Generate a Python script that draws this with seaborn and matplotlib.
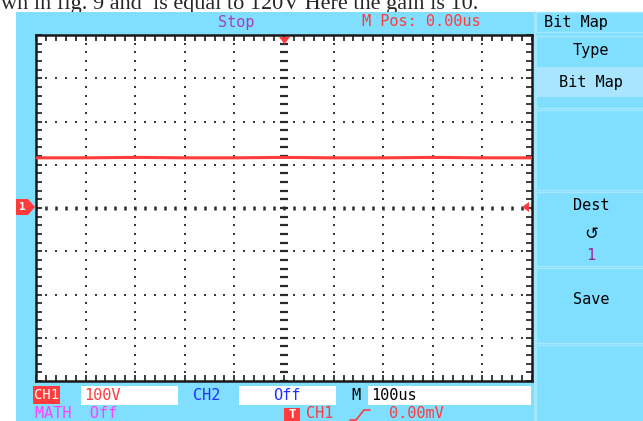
import numpy as np
import pandas as pd
import matplotlib
matplotlib.use("Agg")
import matplotlib.pyplot as plt
import seaborn as sns
from matplotlib.patches import Rectangle, Polygon
from matplotlib.lines import Line2D

trace_time_us = [-500, -400, -300, -200, -100, 0, 100, 200, 300, 400, 500]
trace_volts = [116, 116, 117, 116, 116, 117, 116, 116, 117, 116, 116]
volts_per_div = 100
us_per_div = 100
n_xdiv = 10
n_ydiv = 8

ch1_label = "100V"
ch2_label = "Off"
timebase_label = "100us"
trig_label = "0.00mV"
mpos_label = "M Pos: 0.00us"
run_state = "Stop"
menu_title = "Bit Map"
doc_line = "wn in fig. 9 and  is equal to 120V Here the gain is 10."

W, H = 643, 421
CYAN = "#80DEFF"
PANEL_EDGE = "#A6E9FF"
HILITE = "#A9E5FF"
RED = "#FF3B3B"
MONO = "DejaVu Sans Mono"

sns.set_style("white")
plt.rcParams["font.family"] = [MONO, "DejaVu Sans"]

fig = plt.figure(figsize=(W / 100, H / 100), dpi=100)
fig.patch.set_facecolor("white")


def fx(x):
    return x / W


def fy(y):
    return 1 - y / H


def box(x0, y0, x1, y1, fc, ec="none", z=-1, lw=1):
    fig.patches.append(Rectangle((fx(x0), fy(y1)), fx(x1) - fx(x0), fy(y0) - fy(y1),
                                 transform=fig.transFigure, fc=fc, ec=ec, lw=lw, zorder=z))


def txt(x, y, s, color="black", size=11, ha="left", **kw):
    fig.text(fx(x), fy(y), s, color=color, fontsize=size, ha=ha, va="center", **kw)


# document text partly hidden behind the screen capture
fig.text(fx(1), fy(9), doc_line, fontsize=16, family="Liberation Serif",
         va="baseline", ha="left", zorder=-3)

# screen background
box(16, 12, W + 2, H + 2, CYAN, z=-2)

# right menu panels
fig.lines.append(Line2D([fx(535), fx(535)], [fy(12), fy(H)], color=PANEL_EDGE, lw=1.2,
                        transform=fig.transFigure, zorder=-1))
box(536, 12, W + 2, 32, CYAN, PANEL_EDGE)
box(536, 36, W + 2, 108, CYAN, PANEL_EDGE)
box(537, 67, W + 2, 97, HILITE)
box(536, 110, W + 2, 190, CYAN, PANEL_EDGE)
box(536, 192, W + 2, 266, CYAN, PANEL_EDGE)
box(536, 268, W + 2, 343, CYAN, PANEL_EDGE)
box(536, 345, W + 2, H + 2, CYAN, PANEL_EDGE)

txt(544, 22, menu_title)
txt(591, 50, "Type", ha="center")
txt(591, 82, menu_title, ha="center")
txt(591, 205, "Dest", ha="center")
txt(591, 234, "\u21ba", ha="center", size=12, family="DejaVu Sans")
txt(591, 255, "1", color="#A0209F", ha="center")
txt(591, 300, "Save", ha="center")

# top status line
txt(236, 22, run_state, color="#A040C0", ha="center")
txt(362, 22, mpos_label, color=RED)

# --- waveform area ---
ax = fig.add_axes([fx(36), fy(381), fx(532) - fx(36), fy(35) - fy(381)])
ax.set_facecolor("white")
xmax = n_xdiv / 2 * us_per_div
ymax = n_ydiv / 2 * volts_per_div
ax.set_xlim(-xmax, xmax)
ax.set_ylim(-ymax, ymax)

minor_x = np.arange(-xmax, xmax + 1, us_per_div / 5)
minor_y = np.arange(-ymax, ymax + 1, volts_per_div / 5)
ax.set_xticks(minor_x)
ax.set_yticks(minor_y)
ax.tick_params(direction="in", length=4, width=1.2, color="#1a1a1a",
               top=True, right=True, bottom=True, left=True,
               labelbottom=False, labelleft=False)
for s in ax.spines.values():
    s.set_color("#1a1a1a")
    s.set_linewidth(1.8)

# dotted graticule
for gx in np.arange(-xmax + us_per_div, xmax, us_per_div):
    if gx == 0:
        continue
    ax.plot(np.full_like(minor_y, gx), minor_y, ls="none", marker="s", ms=1.9,
            color="#3a3a3a", mew=0)
for gy in np.arange(-ymax + volts_per_div, ymax, volts_per_div):
    if gy == 0:
        continue
    ax.plot(minor_x, np.full_like(minor_x, gy), ls="none", marker="s", ms=1.9,
            color="#3a3a3a", mew=0)
# centre axes
ax.plot(np.zeros_like(minor_y), minor_y, ls="none", marker="_", ms=5.5, mew=1.6, color="#2a2a2a")
ax.plot(minor_x, np.zeros_like(minor_x), ls="none", marker="|", ms=3.5, mew=1.8, color="#2a2a2a")

df = pd.DataFrame({"t": trace_time_us, "v": trace_volts})
sns.lineplot(data=df, x="t", y="v", color=RED, linewidth=2.2, ax=ax, zorder=5)
ax.set_xlabel("")
ax.set_ylabel("")

# markers: channel 1 ground, trigger level, trigger position
fig.patches.append(Polygon([(fx(16), fy(199)), (fx(28), fy(199)), (fx(35), fy(207)),
                            (fx(28), fy(215)), (fx(16), fy(215))],
                           closed=True, fc=RED, ec="none", transform=fig.transFigure, zorder=3))
txt(22, 207, "1", color="white", size=8, ha="center", weight="bold", zorder=4)
fig.patches.append(Polygon([(fx(522), fy(207)), (fx(529), fy(202)), (fx(529), fy(212))],
                           closed=True, fc=RED, ec="none", transform=fig.transFigure, zorder=3))
fig.patches.append(Polygon([(fx(279), fy(37)), (fx(290), fy(37)), (fx(284.5), fy(44))],
                           closed=True, fc=RED, ec="none", transform=fig.transFigure, zorder=3))

# bottom status lines
box(33, 386, 60, 404, RED, z=1)
txt(46.5, 395, "CH1", color="white", ha="center", size=10)
box(81, 386, 178, 405, "white", z=1)
txt(84, 395, ch1_label, color=RED)
txt(193, 395, "CH2", color="#2030FF")
box(239, 386, 336, 405, "white", z=1)
txt(287, 395, ch2_label, color="#2030FF", ha="center")
txt(351, 395, "M", color="black")
box(368, 386, 531, 405, "white", z=1)
txt(371, 395, timebase_label, color="black")

txt(35, 414, "MATH  Off", color="#FF40FF")
box(284, 408, 300, 424, RED, z=1)
txt(292, 414.5, "T", color="white", ha="center", weight="bold", size=9)
txt(306, 414, "CH1", color=RED)
fig.lines.append(Line2D([fx(350), fx(356), fx(364), fx(370)], [fy(420), fy(420), fy(410), fy(410)],
                        color=RED, lw=1.2, transform=fig.transFigure))
txt(389, 414, trig_label, color=RED)

fig.savefig("out.png", dpi=100)
